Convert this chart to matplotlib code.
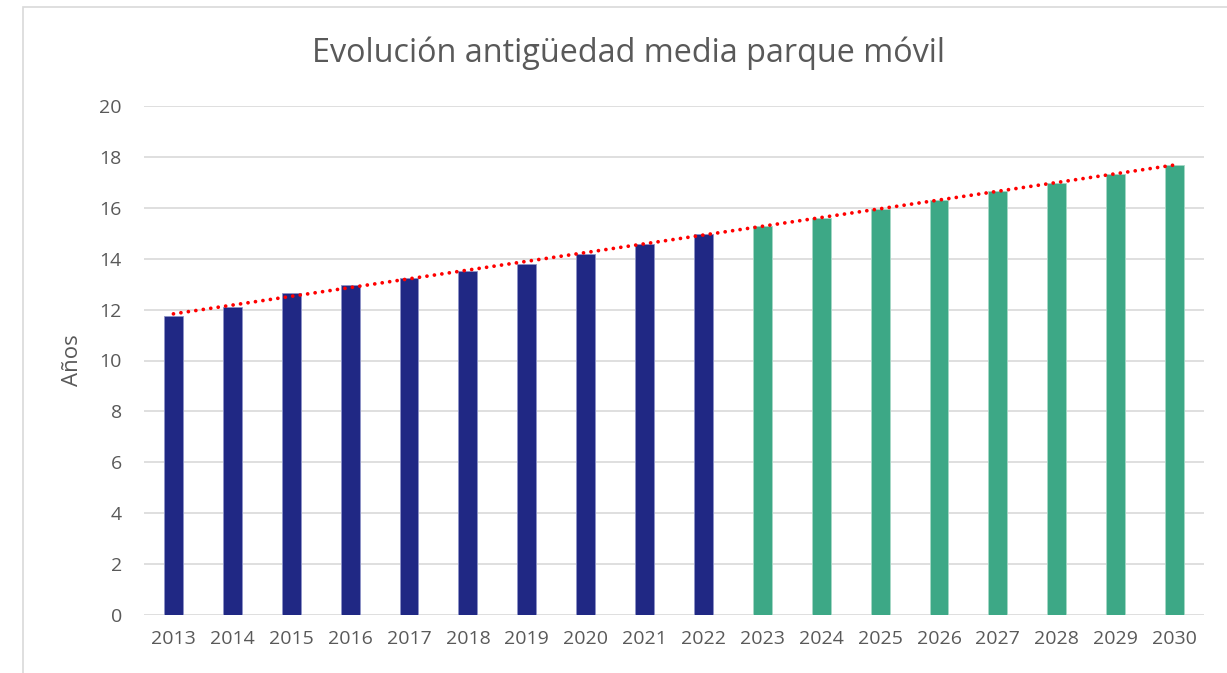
import matplotlib.pyplot as plt
import numpy as np
from matplotlib.patches import Rectangle

# Data
years = [2013, 2014, 2015, 2016, 2017, 2018, 2019, 2020, 2021, 2022,
         2023, 2024, 2025, 2026, 2027, 2028, 2029, 2030]
real_ages = [11.76, 12.11, 12.66, 12.98, 13.25, 13.52, 13.79, 14.18, 14.57, 14.98]
forecast_ages = [15.28, 15.61, 15.96, 16.31, 16.66, 16.99, 17.34, 17.69]

text_color = "#595959"
blue = "#202884"
green = "#3DA886"

plt.rcParams["font.family"] = ["Open Sans", "DejaVu Sans"]

fig = plt.figure(figsize=(12.27, 6.73), dpi=100)
ax = fig.add_axes([144 / 1227, 1 - 615 / 673, 1060 / 1227, 509 / 673])

#Chart frame (only top and left visible in the reference)
fig.patches.append(Rectangle((23 / 1227, -0.1), 1.2, 1 - 7 / 673 + 0.1,
                             transform=fig.transFigure, fill=False,
                             edgecolor="#D9D9D9", linewidth=1.2))

x = np.arange(len(years))
n_real = len(real_ages)
ax.bar(x[:n_real], real_ages, width=0.32, color=blue,
       edgecolor="#8E94C8", linewidth=0.6, zorder=2)
ax.bar(x[n_real:], forecast_ages, width=0.32, color=green,
       edgecolor="#A6D8C6", linewidth=0.6, zorder=2)

#Linear trend over all values
all_ages = np.array(real_ages + forecast_ages)
coef = np.polyfit(x, all_ages, 1)
ax.plot(x, np.polyval(coef, x), linestyle=(0, (0.01, 2.0)), color="#FF0000",
        linewidth=2.7, dash_capstyle="round", zorder=3)

ax.set_xlim(-0.5, len(years) - 0.5)
ax.set_ylim(0, 20)
ax.set_yticks(range(0, 21, 2))
ax.set_xticks(x)
ax.set_xticklabels([str(y) for y in years])
ax.grid(axis="y", color="#D9D9D9", linewidth=1.2, zorder=0)
ax.set_axisbelow(True)
for s in ax.spines.values():
    s.set_visible(False)
ax.tick_params(axis="both", length=0, labelsize=14, colors=text_color)
ax.tick_params(axis="x", pad=11)
ax.tick_params(axis="y", pad=16)

ax.set_ylabel("Años", fontsize=16, color=text_color, labelpad=12)
fig.text(0.512, 1 - 53 / 673, "Evolución antigüedad media parque móvil",
         ha="center", va="center", fontsize=23.3, color=text_color)

fig.savefig("out.png", dpi=100, facecolor="white")
